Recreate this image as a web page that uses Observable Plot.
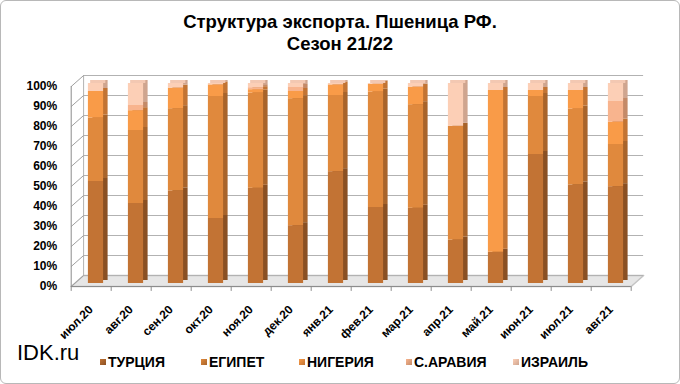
<!DOCTYPE html>
<html><head><meta charset="utf-8">
<script src="https://cdn.jsdelivr.net/npm/d3@7"></script>
<script src="https://cdn.jsdelivr.net/npm/@observablehq/plot@0.6"></script>
<style>
body{margin:0;background:#fff;font-family:"Liberation Sans",Arial,sans-serif}
#wrap{position:relative;width:678px;height:382px;border:1px solid #b8b8b8;border-radius:6px;overflow:hidden;background:#fff}
#title{height:57px;box-sizing:border-box;padding-top:10px;text-align:center;font-weight:bold;font-size:18.5px;line-height:22px;color:#000}
#chart{height:285px}
#legend{position:relative;height:38px}
.brand{position:absolute;left:16px;top:-3px;font-size:22px;line-height:26px;color:#000}
.item{position:absolute;top:11px;font-size:14px;font-weight:bold;line-height:16px;color:#000;white-space:nowrap}
.sw{position:absolute;left:-8px;top:5px;width:6px;height:6px}
</style></head><body>
<div id="wrap">
<div id="title">Структура экспорта. Пшеница РФ.<br>Сезон 21/22</div>
<div id="chart"></div>
<div id="legend"></div>
</div>
<script>
const months = ["июл.20","авг.20","сен.20","окт.20","ноя.20","дек.20","янв.21","фев.21","мар.21","апр.21","май.21","июн.21","июл.21","авг.21"];
const seriesNames = ["ТУРЦИЯ","ЕГИПЕТ","НИГЕРИЯ","С.АРАВИЯ","ИЗРАИЛЬ"];
const turkey  = [51.0, 40.0, 46.3, 32.5, 47.6, 28.9, 55.9, 38.0, 37.6, 21.7, 15.6, 64.5, 49.3, 48.4];
const egypt   = [31.7, 36.5, 41.1, 61.0, 47.6, 63.5, 38.1, 57.7, 51.8, 56.9,  0.0, 29.0, 37.9, 21.1];
const nigeria = [13.3,  9.9, 10.3,  5.8,  1.7,  3.6,  5.3,  3.9,  8.8,  0.0, 80.9,  3.0,  9.3, 11.2];
const sarabia = [ 0.0,  2.6,  0.0,  0.0,  1.0,  2.0,  0.0,  0.0,  0.0,  0.0,  0.0,  0.0,  0.0, 10.3];
const israel  = [ 4.0, 11.0,  2.3,  0.7,  2.1,  2.0,  0.7,  0.4,  1.8, 21.4,  3.5,  3.5,  3.5,  9.0];
const yTicks = [0,10,20,30,40,50,60,70,80,90,100];
const frontColors = ["#c27334","#e0893d","#f99b48","#f8b48e","#fccfb6"];
const sideColors  = ["#8a5023","#a8642b","#c27434","#c48a68","#cfa58f"];
const capColor = "#f3c8b2";
const legendLefts = [107,208,306,413,520];

const seriesValues = [turkey, egypt, nigeria, sarabia, israel];
const data = [];
seriesValues.forEach((vals, s) => vals.forEach((v, i) => data.push({i, month: months[i], s, country: seriesNames[s], value: v})));
const totals = months.map((m, i) => ({i, total: d3.sum(seriesValues, vals => vals[i])}));

// pseudo-3D geometry (in data units)
const HW = 0.19, FX0 = -0.62, BX0 = -0.31, FX1 = 13.38, BX1 = 13.69, FY = -1.5, BY = 4;
const floor = [[FX0,FY],[FX1,FY],[BX1,BY],[BX0,BY],[FX0,FY]];

const chart = Plot.plot({
  width: 678, height: 285,
  margin: 0,
  x: {domain: [0, 13], range: [94.5, 614.5], axis: null},
  y: {domain: [0, 100], range: [225, 25], axis: null},
  color: {type: "identity"},
  style: {fontFamily: "'Liberation Sans', Arial, sans-serif", background: "#fff"},
  marks: [
    Plot.line(floor, {x: d => d[0], y: d => d[1], fill: "#e6e6e6", stroke: "#c4c4c4"}),
    Plot.ruleY(yTicks, {y: d => d + BY, x1: BX0, x2: BX1, stroke: "#b2b2b2"}),
    Plot.ruleX([BX0], {y1: BY, y2: 100 + BY, stroke: "#b2b2b2"}),
    Plot.link(yTicks, {x1: FX0, y1: d => d + FY, x2: BX0, y2: d => d + BY, stroke: "#a0a0a0"}),
    Plot.ruleX([FX0], {y1: FY, y2: 100 + FY, stroke: "#8c8c8c"}),
    Plot.ruleY([FY], {x1: FX0, x2: FX1, stroke: "#8c8c8c"}),
    Plot.link(d3.range(15), {x1: d => d + FX0, x2: d => d + FX0, y1: FY, y2: FY - 2.2, stroke: "#8c8c8c"}),
    Plot.rectY(data, {x1: d => d.i - HW, x2: d => d.i + HW, y: "value", z: "country", fill: d => sideColors[d.s], dx: 4.5, dy: -3}),
    Plot.rect(totals, {x1: d => d.i - HW, x2: d => d.i + HW, y1: d => d.total, y2: d => d.total + 1.5, fill: capColor, dx: 2.25}),
    Plot.rectY(data, {x1: d => d.i - HW, x2: d => d.i + HW, y: "value", z: "country", fill: d => frontColors[d.s]}),
    Plot.text(yTicks, {x: FX0, y: d => d + FY, text: d => d + "%", textAnchor: "end", dx: -14, fontWeight: "bold", fontSize: 12, fill: "#000"}),
    Plot.text(months, {x: (d, i) => i, y: FY, text: d => d, rotate: -45, textAnchor: "end", dx: -5, dy: 21, fontWeight: "bold", fontSize: 12, fill: "#000"})
  ]
});
document.getElementById("chart").appendChild(chart);

const legend = document.getElementById("legend");
const brand = document.createElement("div");
brand.className = "brand"; brand.textContent = "IDK.ru";
legend.appendChild(brand);
seriesNames.forEach((n, s) => {
  const it = document.createElement("div");
  it.className = "item"; it.style.left = legendLefts[s] + "px";
  const sw = document.createElement("span");
  sw.className = "sw"; sw.style.background = `linear-gradient(135deg, ${frontColors[s]}, ${sideColors[s]})`;
  it.appendChild(sw);
  it.appendChild(document.createTextNode(n));
  legend.appendChild(it);
});
</script>
</body></html>
